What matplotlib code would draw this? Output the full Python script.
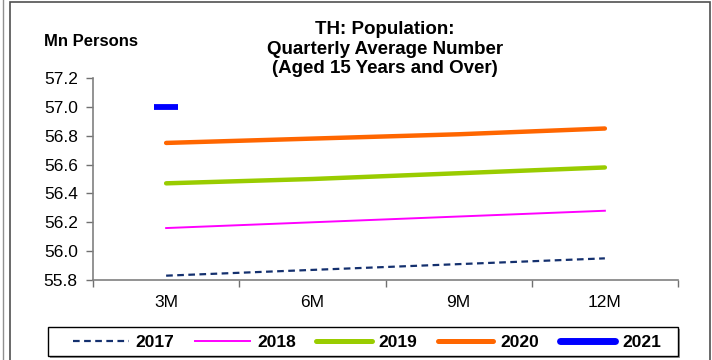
import matplotlib
matplotlib.use("Agg")
import matplotlib.pyplot as plt
from matplotlib.lines import Line2D
from matplotlib.patches import Rectangle

plt.rcParams["font.family"] = ["Liberation Sans", "DejaVu Sans"]

# quarterly average population, aged 15+, millions
quarters = ["3M", "6M", "9M", "12M"]
pop_2017 = [55.83, 55.87, 55.91, 55.95]
pop_2018 = [56.16, 56.20, 56.24, 56.28]
pop_2019 = [56.47, 56.50, 56.54, 56.58]
pop_2020 = [56.75, 56.78, 56.81, 56.85]
pop_2021 = [57.00]

yticks = [55.8, 56.0, 56.2, 56.4, 56.6, 56.8, 57.0, 57.2]

fig = plt.figure(figsize=(7.12, 3.6), dpi=100)
ax = fig.add_axes([93 / 712, 80 / 360, 585 / 712, 202 / 360])

x = list(range(len(quarters)))
ax.plot(x, pop_2017, color="#14306e", lw=1.6, ls=(0, (3, 2)), label="2017")
ax.plot(x, pop_2018, color="#ff00ff", lw=1.4, label="2018")
ax.plot(x, pop_2019, color="#99cc00", lw=3.2, solid_capstyle="round", label="2019")
ax.plot(x, pop_2020, color="#ff6600", lw=3.2, solid_capstyle="round", label="2020")
ax.plot(x[:len(pop_2021)], pop_2021, ls="none", marker="_", ms=17, mew=4.2,
        color="#0000ff", label="2021")

ax.set_xlim(-0.5, len(quarters) - 0.5)
ax.set_ylim(55.8, 57.2)
ax.set_yticks(yticks)
ax.set_yticklabels([f"{v:.1f}" for v in yticks], fontsize=12.5)

# category boundaries carry the tick marks, labels sit between them
ax.set_xticks([i - 0.5 for i in range(len(quarters) + 1)])
ax.set_xticklabels([])
ax.set_xticks(x, minor=True)
ax.set_xticklabels(quarters, minor=True, fontsize=12.5)
ax.tick_params(axis="x", which="minor", length=0, pad=11)
ax.tick_params(axis="x", which="major", length=5, width=1, color="#707070", direction="out")
ax.tick_params(axis="y", length=5, width=1, color="#707070", direction="out", pad=6)

for side in ["top", "right"]:
    ax.spines[side].set_visible(False)
for side in ["left", "bottom"]:
    ax.spines[side].set_color("#808080")
    ax.spines[side].set_linewidth(1.2)

fig.text(44 / 712, 1 - 42 / 360, "Mn Persons", fontsize=12, fontweight="bold",
         va="center", ha="left")
fig.text(385 / 712, 1 - 49 / 360,
         "TH: Population:\nQuarterly Average Number\n(Aged 15 Years and Over)",
         fontsize=13.5, fontweight="bold", ha="center", va="center", linespacing=1.2)

# legend box drawn by hand so the entries can sit inset from its edges
fig.patches.append(Rectangle((50 / 712, 2 / 360), 630 / 712, 29 / 360, transform=fig.transFigure,
                             facecolor="#9a9a9a", edgecolor="none"))
fig.patches.append(Rectangle((48 / 712, 4 / 360), 630 / 712, 29 / 360, transform=fig.transFigure,
                             facecolor="white", edgecolor="black", lw=1.0))

handles = [
    Line2D([], [], color="#14306e", lw=1.6, ls=(0, (3, 2))),
    Line2D([], [], color="#ff00ff", lw=1.4),
    Line2D([], [], color="#99cc00", lw=3.6, solid_capstyle="round"),
    Line2D([], [], color="#ff6600", lw=3.6, solid_capstyle="round"),
    Line2D([], [], color="#0000ff", lw=5, solid_capstyle="round"),
]
leg = fig.legend(handles, ["2017", "2018", "2019", "2020", "2021"], ncol=5,
                 loc="lower left", bbox_to_anchor=(67 / 712, 4 / 360, 600 / 712, 29 / 360),
                 mode="expand", frameon=False, handlelength=3.2,
                 handletextpad=0.4, borderaxespad=0, borderpad=0.35,
                 prop={"weight": "bold", "size": 12.5})

# outer chart frame
fig.patches.append(Rectangle((10 / 712, -0.01), 700 / 712, 1.005, transform=fig.transFigure,
                             fill=False, edgecolor="#505050", lw=1.2))
fig.lines.append(Line2D([3 / 712, 3 / 712], [0, 1], transform=fig.transFigure,
                        color="#909090", lw=1.0))

fig.savefig("out.png", dpi=100)
